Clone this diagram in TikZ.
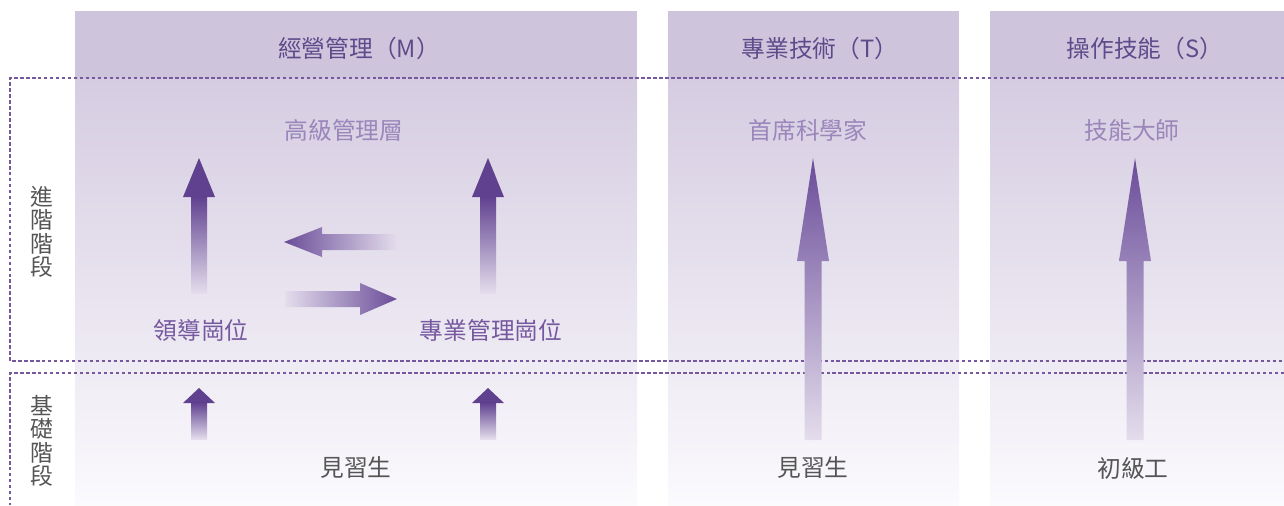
\documentclass[tikz,border=0pt]{standalone}
\usepackage{fontspec}
\setmainfont{Noto Sans CJK TC}
\usetikzlibrary{positioning}
\definecolor{colhead}{HTML}{CEC5DD}
\definecolor{coltop}{HTML}{D5CCE1}
\definecolor{colbot}{HTML}{FBFAFD}
\definecolor{mpurple}{HTML}{76589F}
\definecolor{hpurple}{HTML}{5E4A8A}
\definecolor{lpurple}{HTML}{9A86BA}
\definecolor{tgray}{HTML}{555555}
\definecolor{adark}{HTML}{604190}
\definecolor{bdark}{HTML}{6A4C99}
\definecolor{alight}{HTML}{E4DDEC}
\tikzset{
  headtext/.style = {font=\fontsize{13.5}{15}\selectfont, text=hpurple},
  toptext/.style  = {font=\fontsize{13.5}{15}\selectfont, text=lpurple},
  midtext/.style  = {font=\fontsize{13.5}{15}\selectfont, text=mpurple},
  basetext/.style = {font=\fontsize{13.5}{15}\selectfont, text=tgray},
  stagetext/.style = {font=\fontsize{13}{13.3}\selectfont, text=tgray, align=center},
  frame/.style = {mpurple, dash pattern=on 2pt off 1.4pt, line width=0.6pt}
}
% small up arrow: x, tip, head base, tail, half head, half shaft
\newcommand{\smallup}[6]{%
  \fill[adark] (#1,#2) -- (#1+#5,#3) -- (#1-#5,#3) -- cycle;
  \shade[top color=adark, bottom color=alight]
    (#1-#6,#3-0.3) rectangle (#1+#6,#4);}
% long up arrow: x, tip, head base, tail, half head, half shaft
\newcommand{\fatup}[6]{%
  \shade[top color=bdark, bottom color=alight]
    (#1,#2) -- (#1+#5,#3) -- (#1+#6,#3) -- (#1+#6,#4)
    -- (#1-#6,#4) -- (#1-#6,#3) -- (#1-#5,#3) -- cycle;}
% side arrow: y, tip, head base, tail, half head, half shaft, shading
\newcommand{\fatside}[7]{%
  \shade[#7]
    (#2,#1) -- (#3,#1-#5) -- (#3,#1-#6) -- (#4,#1-#6)
    -- (#4,#1+#6) -- (#3,#1+#6) -- (#3,#1+#5) -- cycle;}

\begin{document}
\begin{tikzpicture}[x=0.02cm, y=-0.02cm]
  \useasboundingbox (0,0) rectangle (1284,505);
  % columns
  \foreach \xa/\xb in {75/637, 668/959, 990/1284} {
    \fill[colhead] (\xa,11) rectangle (\xb,78);
    \shade[top color=coltop, bottom color=colbot] (\xa,78) rectangle (\xb,505);
  }
  % stage frames
  \draw[frame] (1284,78) -- (10,78) -- (10,361) -- (1284,361);
  \draw[frame] (1284,373) -- (10,373) -- (10,505);

  \node[stagetext] (adv) at (42,232) {進\\階\\階\\段};
  \node[stagetext] (base) at (42,441) {基\\礎\\階\\段};

  \node[headtext] (hM) at (359,48) {經營管理（M）};
  \node[headtext] (hT) at (820,48) {專業技術（T）};
  \node[headtext] (hS) at (1145,48) {操作技能（S）};

  \node[toptext] (topM) at (344,130) {高級管理層};
  \node[toptext] (topT) at (808,130) {首席科學家};
  \node[toptext] (topS) at (1132,130) {技能大師};

  \node[midtext] (lead) at (201,330) {領導崗位};
  \node[midtext] (prof) at (491,330) {專業管理崗位};

  \node[basetext] (apM) at (356,468) {見習生};
  \node[basetext] (apT) at (813,468) {見習生};
  \node[basetext] (junS) at (1133,468) {初級工};

  % arrows
  \smallup{199}{158}{197}{293}{16}{8}
  \smallup{488}{158}{197}{293}{16}{8}
  \smallup{199}{388}{403}{439}{16}{8}
  \smallup{488}{388}{403}{439}{16}{8}
  \fatup{813}{158}{261}{440}{16}{8.5}
  \fatup{1135}{158}{261}{440}{16}{8.5}
  \fatside{242}{284}{322}{397}{15}{8}{left color=bdark, right color=alight}
  \fatside{299}{397}{360}{285}{16}{8}{left color=alight, right color=bdark}
\end{tikzpicture}
\end{document}
